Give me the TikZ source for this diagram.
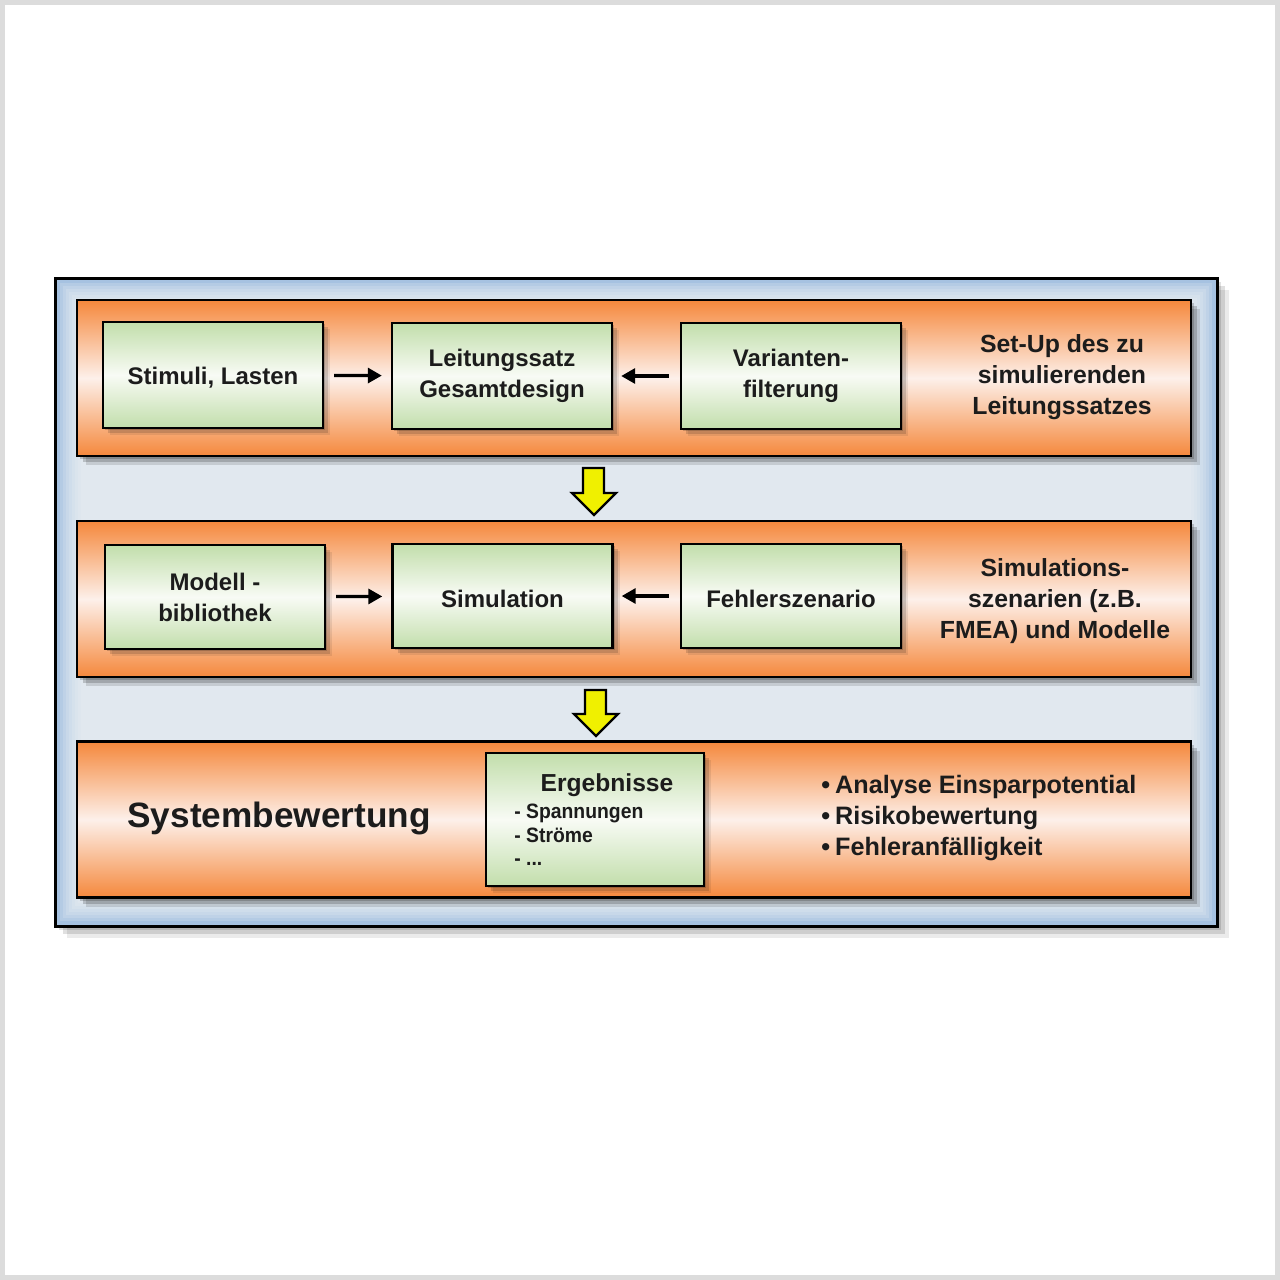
\documentclass[tikz,border=0pt]{standalone}
\usepackage{fontspec}
\setmainfont{Liberation Sans}
\newfontfamily\narrowfont[FakeStretch=0.93]{Liberation Sans}
\usetikzlibrary{shadows,arrows.meta}
\definecolor{frameg}{HTML}{DCDCDC}
\definecolor{panelblue}{HTML}{A6C2E1}
\definecolor{panellight}{HTML}{EEF1F4}
\definecolor{orng}{HTML}{F5883C}
\definecolor{orngmid}{HTML}{FDF0EA}
\definecolor{grn}{HTML}{C2DEAB}
\definecolor{grnmid}{HTML}{F8FBF5}
\definecolor{txt}{HTML}{1C1C1C}
\definecolor{yel}{HTML}{F0F000}
\newcommand{\lowertext}[1]{\raisebox{-1.4pt}[\height][\depth]{#1}}
\begin{document}
\begin{tikzpicture}[x=0.5pt,y=-0.5pt,
  bandshadow/.style={
    drop shadow={shadow xshift=1.5pt, shadow yshift=-1.5pt, fill=black, opacity=0.18},
    drop shadow={shadow xshift=3pt, shadow yshift=-3pt, fill=black, opacity=0.18},
    drop shadow={shadow xshift=4.5pt, shadow yshift=-4.5pt, fill=black, opacity=0.12}},
  boxshadow/.style={
    drop shadow={shadow xshift=1.2pt, shadow yshift=-1.2pt, fill=black, opacity=0.18},
    drop shadow={shadow xshift=2.5pt, shadow yshift=-2.5pt, fill=black, opacity=0.14},
    drop shadow={shadow xshift=3.5pt, shadow yshift=-3.5pt, fill=black, opacity=0.08}},
  band/.style={draw=black, line width=1.3pt, top color=orng, bottom color=orng, middle color=orngmid,
    minimum width=557pt, minimum height=78pt, inner sep=0pt, bandshadow},
  greenbox/.style={draw=black, line width=1.2pt, top color=grn, bottom color=grn, middle color=grnmid,
    minimum width=110pt, minimum height=53pt, inner sep=2pt, align=center, text=txt,
    font=\fontsize{12}{15.5}\selectfont\bfseries, boxshadow},
  lbl/.style={align=center, text=txt, inner sep=0pt, font=\fontsize{12.4}{15.5}\selectfont\bfseries},
  arr/.style={line width=1.6pt, -{Triangle[length=7pt,width=7.5pt]}},
  yarrow/.style={draw=black, line width=1.2pt, fill=yel, line join=miter}
]
\useasboundingbox (0,0) rectangle (1280,1280);
\fill[white] (0,0) rectangle (1280,1280);
\draw[frameg, line width=2.5pt] (2.5,2.5) rectangle (1277.5,1277.5);

% panel
\node[draw=black, line width=1.5pt, fill=panelblue, minimum width=581pt, minimum height=324pt, inner sep=0pt,
  drop shadow={shadow xshift=2pt, shadow yshift=-2pt, fill=black, opacity=0.12},
  drop shadow={shadow xshift=4pt, shadow yshift=-4pt, fill=black, opacity=0.12},
  drop shadow={shadow xshift=6pt, shadow yshift=-6pt, fill=black, opacity=0.08}] (panel) at (636,602) {};
\foreach \i in {1,...,8}
  \fill[panellight, opacity=0.2] ({57+3*\i},{280+3*\i}) rectangle ({1215-3*\i},{924-3*\i});

% bands
\node[band] (b1) at (634,378) {};
\node[band] (b2) at (634,599) {};
\node[band] (b3) at (634,819.5) {};

% band 1
\node[greenbox] (s1) at (213,375) {\lowertext{Stimuli, Lasten}};
\node[greenbox] (s2) at (502,376) {Leitungssatz\\Gesamtdesign};
\node[greenbox] (s3) at (791,376) {Varianten-\\filterung};
\node[lbl] (t1) at (1062,377) {Set-Up des zu\\simulierenden\\Leitungssatzes};
\draw[arr, shorten <=5pt, shorten >=4.5pt] (s1) -- (s2);
\draw[arr, shorten <=5.5pt, shorten >=4pt] (s3) -- (s2);

% band 2
\node[greenbox, minimum height=52pt] (m1) at (215,597) {Modell -\\bibliothek};
\node[greenbox, minimum height=52pt] (m2) at (502.5,596) {\lowertext{Simulation}};
\node[greenbox, minimum height=52pt] (m3) at (791,596) {\lowertext{Fehlerszenario}};
\node[lbl] (t2) at (1055,601) {Simulations-\\szenarien (z.B.\\FMEA) und Modelle};
\draw[arr, shorten <=5pt, shorten >=4.5pt] (m1) -- (m2);
\draw[arr, shorten <=5.5pt, shorten >=4pt] (m3) -- (m2);

% band 3
\node[text=txt, anchor=west, inner sep=0pt, font=\fontsize{17.6}{20}\selectfont\bfseries] (sys) at (127,818) {Systembewertung};
\node[greenbox, minimum width=109pt, minimum height=66.5pt] (erg) at (595,819.5) {};
\node[text=txt, inner sep=0pt, font=\fontsize{12.3}{15}\selectfont\bfseries] (ergt) at (607,785) {Ergebnisse};
\node[text=txt, anchor=west, align=left, inner sep=0pt, font=\narrowfont\fontsize{10.4}{11.75}\selectfont\bfseries] (ergl) at (514,835) {- Spannungen\\- Ströme\\- ...};
\node[text=txt, anchor=west, align=left, inner sep=0pt, font=\fontsize{12.6}{15.3}\selectfont\bfseries] (bul) at (821,818)
  {•\hspace{2.5pt}Analyse Einsparpotential\\•\hspace{2.5pt}Risikobewertung\\•\hspace{2.5pt}Fehleranfälligkeit};

% yellow block arrows
\draw[yarrow] (583,468) -- (604,468) -- (604,493) -- (616,493) -- (594,515) -- (572,493) -- (583,493) -- cycle;
\draw[yarrow] (585,690) -- (606,690) -- (606,714) -- (618,714) -- (596,736) -- (574,714) -- (585,714) -- cycle;
\end{tikzpicture}
\end{document}
